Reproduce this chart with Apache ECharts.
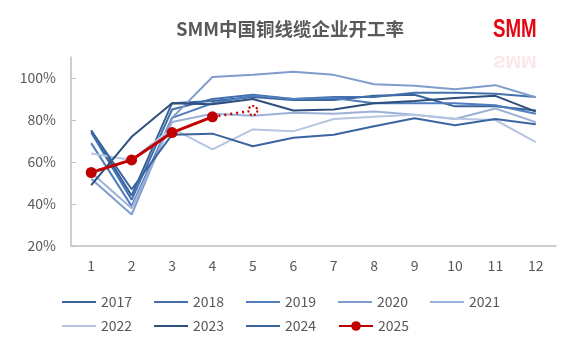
<!DOCTYPE html>
<html>
<head>
<meta charset="utf-8">
<script src="https://cdn.jsdelivr.net/npm/echarts@6/dist/echarts.min.js"></script>
<style>
  html, body { margin: 0; padding: 0; background: #fff; }
  #chart { width: 580px; height: 354px; }
</style>
</head>
<body>
<div id="chart"></div>
<script>
// months on the x axis
const months = ['1', '2', '3', '4', '5', '6', '7', '8', '9', '10', '11', '12'];

// operating rate, %
const y2017 = [75, 44, 88, 89, 91, 89.5, 89.5, 91.5, 92, 86.5, 86.5, 84.5];
const y2018 = [74, 42, 85, 90, 92, 90, 91, 91, 93, 93, 92.5, 91];
const y2019 = [69, 39, 81, 88, 91.5, 90, 90.5, 88, 88, 88, 87, 83];
const y2020 = [52, 35, 81, 100.5, 101.5, 103, 101.5, 97, 96.3, 94.7, 96.6, 90.8];
const y2021 = [55, 38, 79, 83, 82, 83.4, 83, 84, 82.5, 80.5, 85.5, 79];
const y2022 = [64, 61, 76, 66, 75.5, 74.6, 80.5, 81.5, 82.5, 80.6, 80, 69.5];
const y2023 = [49, 72, 88, 87.5, 90, 84.5, 85, 88, 89, 90.5, 91.5, 84];
const y2024 = [75, 47, 73, 73.5, 67.5, 71.5, 73, 77, 80.8, 77.5, 80.5, 78];
const y2025 = [55, 61, 74, 81.5];
const y2025Forecast = [null, null, null, 81.5, 84.5];

const years = ['2017', '2018', '2019', '2020', '2021', '2022', '2023', '2024'];
const blueData = [y2017, y2018, y2019, y2020, y2021, y2022, y2023, y2024];
const blueColors = ['#38639a', '#4370ad', '#4f7dbd', '#7e9dcc', '#9db1d8', '#b5c5e2', '#2e4e7c', '#3a659f'];

const red = '#c00000';
const grey = '#595959';
const font = '"Noto Sans CJK SC", "Noto Sans", sans-serif';
const lineIcon = 'path://M0,0L34,0L34,2L0,2Z';

let series = blueData.map((d, i) => ({
    name: years[i],
    type: 'line',
    data: d,
    symbol: 'none',
    lineStyle: { width: 2, color: blueColors[i] },
    itemStyle: { color: blueColors[i] },
    z: 2,
}));

series.push({
    name: '2025',
    type: 'line',
    data: y2025,
    symbol: 'circle',
    symbolSize: 11,
    lineStyle: { width: 3, color: red },
    itemStyle: { color: red },
    z: 5,
});

// forecast point, dotted
series.push({
    name: '2025',
    type: 'line',
    data: y2025Forecast.map((v, i) => i === 4
        ? { value: v, symbol: 'circle', symbolSize: 9,
            itemStyle: { color: '#fff', borderColor: red, borderType: 'dotted', borderWidth: 2 } }
        : { value: v, symbol: 'none' }),
    lineStyle: { width: 2.5, color: red, type: [2, 4] },
    itemStyle: { color: red },
    z: 4,
});

const logoFont = 'bold 26px "Liberation Sans", sans-serif';

const option = {
    animation: false,
    title: {
        text: 'SMM中国铜线缆企业开工率',
        left: 'center',
        top: 15,
        textStyle: { fontFamily: font, fontSize: 18.5, fontWeight: 'bold', color: grey },
    },
    graphic: [
        {
            type: 'text',
            x: 493,
            y: 17,
            scaleX: 0.72,
            style: { text: 'SMM', font: logoFont, fill: '#e30613' },
        },
        {
            type: 'text',
            x: 493,
            y: 68,
            scaleX: 0.72,
            scaleY: -0.6,
            style: { text: 'SMM', font: logoFont, fill: 'rgba(227,6,19,0.10)' },
        },
    ],
    grid: { left: 71, right: 24, top: 57, bottom: 108, containLabel: false },
    xAxis: {
        type: 'category',
        data: months,
        boundaryGap: true,
        axisLine: { lineStyle: { color: '#bfbfbf', width: 1.5 } },
        axisTick: { inside: true, length: 5, lineStyle: { color: '#bfbfbf' } },
        axisLabel: { color: grey, fontSize: 14, fontFamily: font, margin: 13 },
    },
    yAxis: {
        type: 'value',
        min: 20,
        max: 110,
        interval: 20,
        splitLine: { show: false },
        axisLine: { show: true, lineStyle: { color: '#bfbfbf', width: 1.5 } },
        axisTick: { show: true, inside: true, length: 5, lineStyle: { color: '#bfbfbf' } },
        axisLabel: {
            color: grey, fontSize: 14, fontFamily: font, margin: 15,
            showMaxLabel: false,
            formatter: v => v > 100 ? '' : v + '%',
        },
    },
    legend: {
        data: years.map(y => ({ name: y, icon: lineIcon })).concat([{ name: '2025' }]),
        left: 57,
        top: 290,
        width: 490,
        itemWidth: 34,
        itemHeight: 12,
        itemGap: 10,
        textStyle: { color: grey, fontSize: 14, fontFamily: font, width: 43, lineHeight: 14 },
    },
    series: series,
};

const myChart = echarts.init(document.getElementById('chart'));
myChart.setOption(option);
</script>
</body>
</html>
